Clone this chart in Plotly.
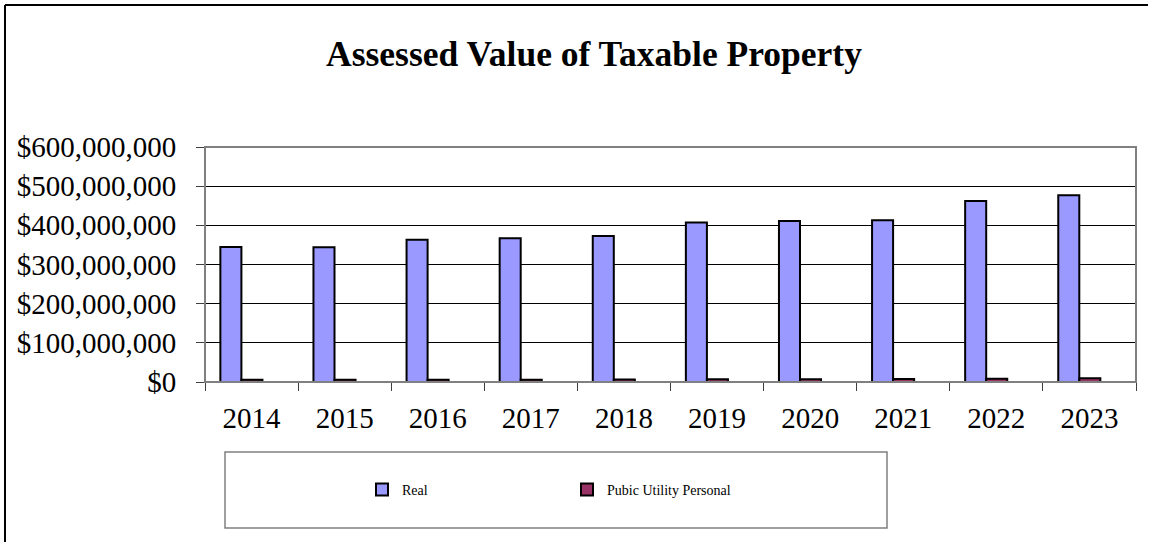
import plotly.graph_objects as go

# ── data ─────────────────────────────────────────────────────────────────────
YEARS = ["2014", "2015", "2016", "2017", "2018", "2019", "2020", "2021", "2022", "2023"]
REAL = [345e6, 344e6, 363e6, 367e6, 373e6, 407e6, 411e6, 413e6, 462e6, 477e6]
UTILITY = [5.5e6, 5.6e6, 5.8e6, 6.0e6, 6.5e6, 6.8e6, 7.2e6, 7.5e6, 8.5e6, 9.5e6]
Y_TICKS = [0, 100e6, 200e6, 300e6, 400e6, 500e6, 600e6]
Y_LABELS = ["$0", "$100,000,000", "$200,000,000", "$300,000,000",
            "$400,000,000", "$500,000,000", "$600,000,000"]

# ── styling ──────────────────────────────────────────────────────────────────
W, H = 1155, 542
L, T = 205, 147                          # plot area 205..1136 x 147..382
R, B = W - 1136, H - 382
PW, PH = W - L - R, H - T - B
SERIF = "'Liberation Serif', 'Times New Roman', serif"
REAL_C = "#9999FF"
UTIL_C = "#993366"
FRAME = "#808080"


def px_x(p):
    # pixel -> paper x
    return (p - L) / PW


def px_y(p):
    # pixel -> paper y
    return (H - B - p) / PH


fig = go.Figure()
fig.add_trace(go.Bar(
    x=YEARS, y=REAL, name="Real",
    width=0.226, offset=-0.335,
    marker=dict(color=REAL_C, line=dict(color="black", width=2)),
))
fig.add_trace(go.Bar(
    x=YEARS, y=UTILITY, name="Pubic Utility Personal",
    width=0.226, offset=-0.109,
    marker=dict(color=UTIL_C, line=dict(color="black", width=2)),
))

shapes = [
    # outer chart border (left + top)
    dict(type="line", xref="paper", yref="paper",
         x0=px_x(5), x1=px_x(5), y0=px_y(5), y1=px_y(545),
         line=dict(color="black", width=2)),
    dict(type="line", xref="paper", yref="paper",
         x0=px_x(5), x1=px_x(1148), y0=px_y(5), y1=px_y(5),
         line=dict(color="black", width=2)),
    # plot frame
    dict(type="rect", xref="paper", yref="paper", x0=0, x1=1, y0=0, y1=1,
         line=dict(color=FRAME, width=2), layer="above"),
    # legend box
    dict(type="rect", xref="paper", yref="paper",
         x0=px_x(225), x1=px_x(887), y0=px_y(528), y1=px_y(452),
         line=dict(color=FRAME, width=1.5)),
]

fig.update_layout(
    width=W, height=H,
    margin=dict(l=L, r=R, t=T, b=B, autoexpand=False),
    paper_bgcolor="white", plot_bgcolor="white",
    font=dict(family=SERIF, color="black"),
    barmode="overlay",
    title=dict(
        text="<b>Assessed Value of Taxable Property</b>",
        font=dict(family=SERIF, size=35.5, color="black"),
        x=594 / W, xref="container", xanchor="center",
        y=1 - 54 / H, yref="container", yanchor="middle",
    ),
    xaxis=dict(
        type="category", tickson="boundaries",
        ticks="outside", ticklen=8, tickcolor="#404040", tickwidth=1,
        showgrid=False, showline=False, zeroline=False,
        tickfont=dict(family=SERIF, size=29, color="black"),
        ticklabelstandoff=16,
        range=[-0.5, 9.5],
    ),
    yaxis=dict(
        range=[0, 600e6], tickvals=Y_TICKS, ticktext=Y_LABELS,
        ticks="outside", ticklen=8, tickcolor="#404040", tickwidth=1,
        showgrid=True, gridcolor="black", gridwidth=1,
        showline=False, zeroline=False,
        tickfont=dict(family=SERIF, size=29, color="black"),
        ticklabelstandoff=14,
    ),
    showlegend=True,
    legend=dict(
        orientation="h",
        x=px_x(362), y=px_y(490), xanchor="left", yanchor="middle",
        entrywidth=160, entrywidthmode="pixels",
        font=dict(family=SERIF, size=14, color="black"),
        bgcolor="rgba(0,0,0,0)", borderwidth=0,
    ),
    shapes=shapes,
)

# drop the browser's default 8px body margin so the figure fills the window
fig.write_html(
    "out.html",
    config={"displayModeBar": False},
    post_script="document.body.style.margin = '0';",
)
